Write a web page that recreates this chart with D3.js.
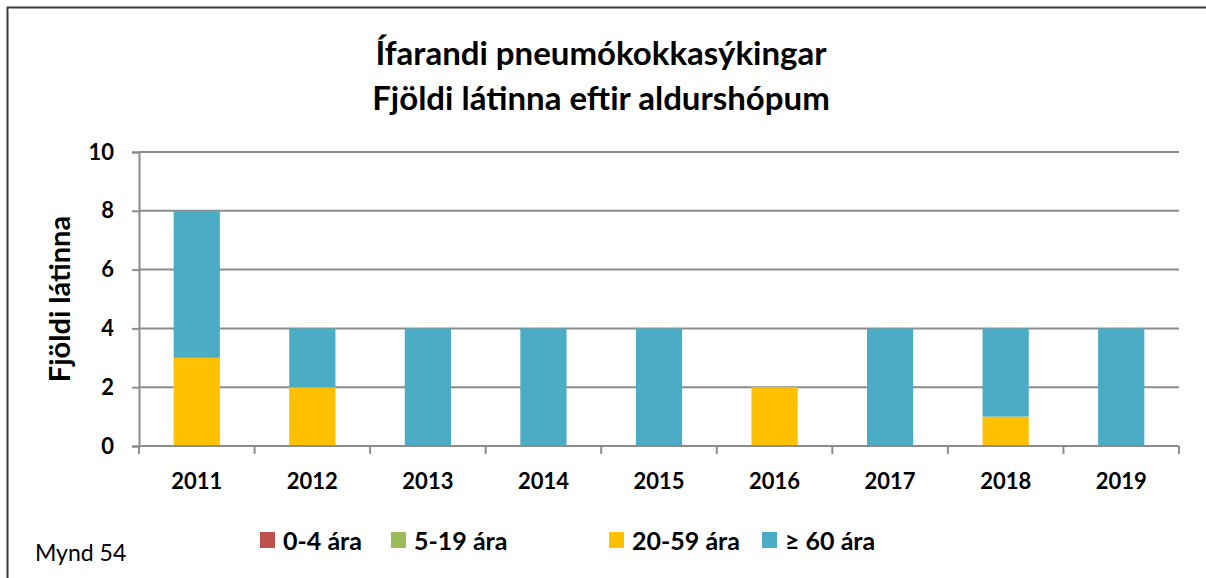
<!DOCTYPE html>
<html>
<head>
<meta charset="utf-8">
<script src="https://cdn.jsdelivr.net/npm/d3@7"></script>
<style>
  html, body { margin: 0; padding: 0; background: #fff; }
  svg { display: block; font-family: Lato, "Open Sans", sans-serif; }
  svg text { font-family: Lato, "Open Sans", sans-serif; }
</style>
</head>
<body>
<svg id="chart" width="1206" height="578"></svg>
<script>
// Years on the x axis
const years = ["2011", "2012", "2013", "2014", "2015", "2016", "2017", "2018", "2019"];
// Deaths per age group, per year
const age0to4 = [0, 0, 0, 0, 0, 0, 0, 0, 0];
const age5to19 = [0, 0, 0, 0, 0, 0, 0, 0, 0];
const age20to59 = [3, 2, 0, 0, 0, 2, 0, 1, 0];
const age60plus = [5, 2, 4, 4, 4, 0, 4, 3, 4];
const seriesNames = ["0-4 ára", "5-19 ára", "20-59 ára", "≥ 60 ára"];
const seriesColors = ["#C0504D", "#9BBB59", "#FFC000", "#4BACC6"];
const yTicks = [0, 2, 4, 6, 8, 10];

const rows = years.map((y, i) => ({
  year: y,
  [seriesNames[0]]: age0to4[i],
  [seriesNames[1]]: age5to19[i],
  [seriesNames[2]]: age20to59[i],
  [seriesNames[3]]: age60plus[i]
}));

const svg = d3.select("#chart");
const W = 1206, H = 578;
const plot = { left: 139, right: 1179, top: 152, bottom: 446 };

// Chart frame (left and top edges)
svg.append("path")
  .attr("d", `M7.5,${H} V7.5 H${W + 5}`)
  .attr("fill", "none").attr("stroke", "#3a3a3a").attr("stroke-width", 2);

const x = d3.scaleBand().domain(years).range([plot.left, plot.right]).paddingInner(0.6).paddingOuter(0.3);
const xBand = d3.scaleBand().domain(years).range([plot.left, plot.right]);
const y = d3.scaleLinear().domain([0, 10]).range([plot.bottom, plot.top]);

const gridColor = "#8c8c8c";

// Y axis with left tick stubs
const yAxis = d3.axisLeft(y).tickValues(yTicks).tickSize(7).tickPadding(18).tickFormat(d3.format("d"));
const gy = svg.append("g").attr("transform", `translate(${plot.left},0)`).call(yAxis)
  .attr("font-family", null).attr("font-size", null);
gy.select(".domain").attr("stroke", gridColor).attr("stroke-width", 2);
gy.selectAll(".tick line").attr("stroke", gridColor).attr("stroke-width", 2);
gy.selectAll(".tick text").attr("font-size", 22).attr("font-weight", 700).attr("fill", "#000");

// Horizontal gridlines
svg.append("g").selectAll("line").data(yTicks.filter(t => t > 0)).join("line")
  .attr("x1", plot.left).attr("x2", plot.right)
  .attr("y1", d => y(d)).attr("y2", d => y(d))
  .attr("stroke", gridColor).attr("stroke-width", 2);

// Stacked bars
const stack = d3.stack().keys(seriesNames);
const layers = stack(rows);
svg.append("g").selectAll("g").data(layers).join("g")
  .attr("fill", (d, i) => seriesColors[i])
  .selectAll("rect").data(d => d.filter(s => s[1] - s[0] > 0)).join("rect")
  .attr("x", d => x(d.data.year))
  .attr("width", x.bandwidth())
  .attr("y", d => y(d[1]))
  .attr("height", d => y(d[0]) - y(d[1]));

// X axis with category boundary ticks
const gx = svg.append("g").attr("transform", `translate(0,${plot.bottom})`);
gx.append("line").attr("x1", plot.left).attr("x2", plot.right)
  .attr("stroke", gridColor).attr("stroke-width", 2);
const bounds = years.map(yv => xBand(yv)).concat([plot.right]);
gx.selectAll("line.b").data(bounds).join("line").attr("class", "b")
  .attr("x1", d => d).attr("x2", d => d).attr("y1", 0).attr("y2", 8)
  .attr("stroke", gridColor).attr("stroke-width", 2);
gx.selectAll("text").data(years).join("text")
  .attr("x", d => xBand(d) + xBand.bandwidth() / 2)
  .attr("y", 43)
  .attr("text-anchor", "middle")
  .attr("font-size", 22).attr("font-weight", 700).attr("fill", "#000")
  .text(d => d);

// Title
const title = svg.append("text").attr("text-anchor", "middle")
  .attr("font-size", 33).attr("font-weight", 700).attr("fill", "#000");
title.append("tspan").attr("x", 601).attr("y", 65).text("Ífarandi pneumókokkasýkingar");
title.append("tspan").attr("x", 601).attr("y", 110).text("Fjöldi látinna eftir aldurshópum");

// Y axis title
svg.append("text")
  .attr("transform", `translate(70,${(plot.top + plot.bottom) / 2}) rotate(-90)`)
  .attr("text-anchor", "middle")
  .attr("font-size", 29).attr("font-weight", 700).attr("fill", "#000")
  .text("Fjöldi látinna");

// Legend
const legendX = [260, 391, 609, 762];
const lg = svg.append("g").selectAll("g").data(seriesNames).join("g")
  .attr("transform", (d, i) => `translate(${legendX[i]},532)`);
lg.append("rect").attr("width", 15).attr("height", 16).attr("fill", (d, i) => seriesColors[i]);
lg.append("text").attr("x", 23).attr("y", 18)
  .attr("font-size", 25).attr("font-weight", 700).attr("fill", "#000")
  .text(d => d);

// Figure number
svg.append("text").attr("x", 35).attr("y", 561)
  .attr("font-size", 23).attr("fill", "#000").text("Mynd 54");
</script>
</body>
</html>
